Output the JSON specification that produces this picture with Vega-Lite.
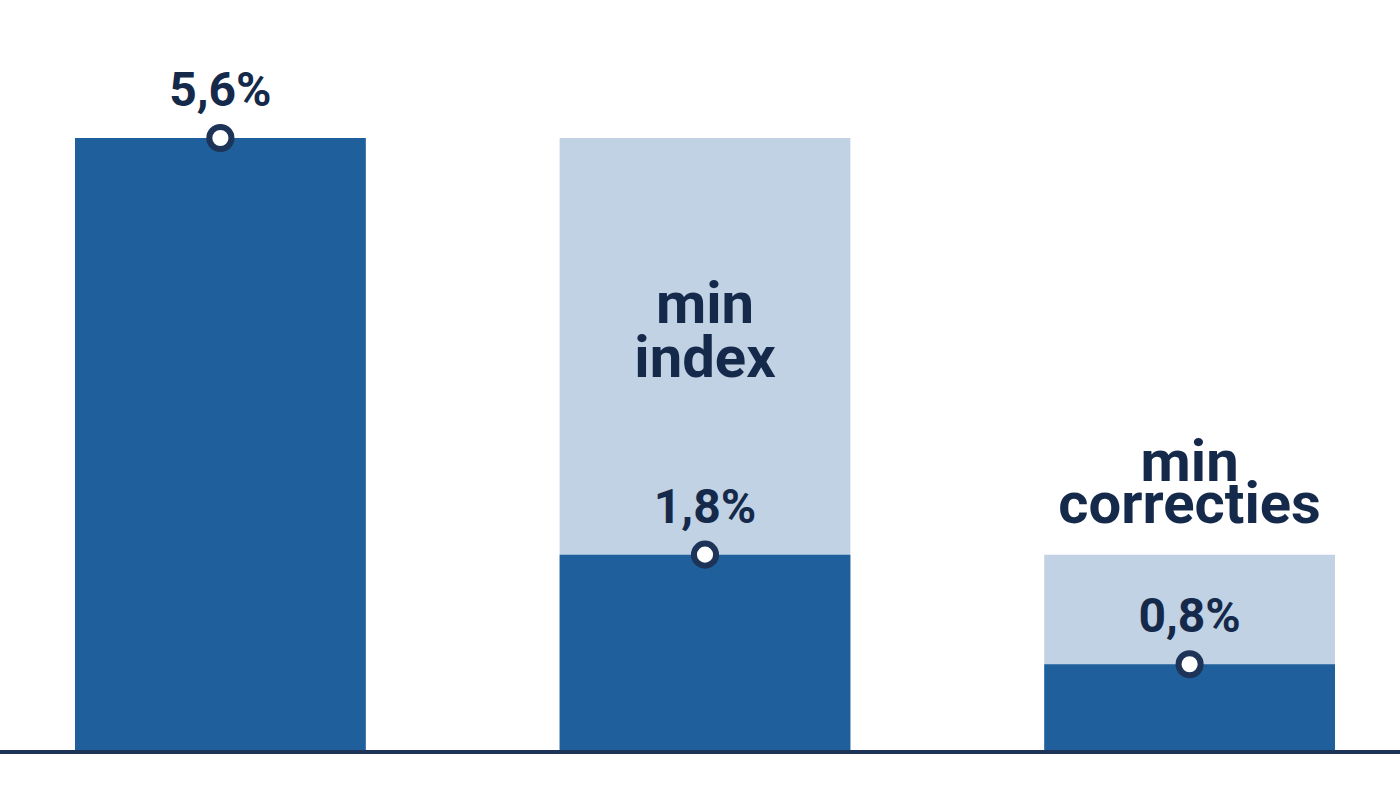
{
  "$schema": "https://vega.github.io/schema/vega-lite/v6.json",
  "width": 1400,
  "height": 804,
  "padding": 0,
  "autosize": {"type": "none"},
  "background": "white",
  "config": {"view": {"stroke": null}},
  "data": {
    "values": [
      {"cat": "a", "total": 5.6, "value": 5.6, "label": "5,6%", "note": ""},
      {"cat": "b", "total": 5.6, "value": 1.8, "label": "1,8%", "note": "min|index"},
      {"cat": "c", "total": 1.8, "value": 0.8, "label": "0,8%", "note": "min|correcties"}
    ]
  },
  "encoding": {
    "x": {"field": "cat", "type": "nominal", "axis": null,
      "scale": {"range": [75, 1335], "paddingInner": 0.4, "paddingOuter": 0}}
  },
  "layer": [
    {
      "mark": {"type": "bar", "color": "#c1d2e4"},
      "encoding": {
        "y": {"field": "total", "type": "quantitative", "axis": null,
          "scale": {"domain": [-0.4743, 6.859], "nice": false, "zero": false}},
        "y2": {"datum": 0}
      }
    },
    {
      "mark": {"type": "bar", "color": "#1f5f9b"},
      "encoding": {
        "y": {"field": "value", "type": "quantitative"},
        "y2": {"datum": 0}
      }
    },
    {
      "mark": {"type": "rule", "color": "#1e3358", "strokeWidth": 4},
      "encoding": {"y": {"datum": 0}, "x": {"value": 0}, "x2": {"value": 1400}}
    },
    {
      "mark": {"type": "point", "shape": "circle", "filled": false, "fill": "white", "fillOpacity": 1, "stroke": "#1e3358", "strokeWidth": 6, "size": 490, "opacity": 1},
      "encoding": {"y": {"field": "value", "type": "quantitative"}}
    },
    {
      "mark": {"type": "text", "font": "Roboto", "fontWeight": 700, "fontSize": 48, "color": "#15294b", "baseline": "alphabetic", "dy": -32},
      "encoding": {
        "y": {"field": "value", "type": "quantitative"},
        "text": {"field": "label"}
      }
    },
    {
      "transform": [{"filter": "datum.cat === 'b'"}, {"calculate": "split(datum.note, '|')", "as": "lines"}],
      "mark": {"type": "text", "font": "Roboto", "fontWeight": 700, "fontSize": 58, "color": "#15294b", "baseline": "top", "lineHeight": 54, "dy": 139},
      "encoding": {
        "y": {"field": "total", "type": "quantitative"},
        "text": {"field": "lines"}
      }
    },
    {
      "transform": [{"filter": "datum.cat === 'c'"}, {"calculate": "split(datum.note, '|')", "as": "lines"}],
      "mark": {"type": "text", "font": "Roboto", "fontWeight": 700, "fontSize": 58, "color": "#15294b", "baseline": "top", "lineHeight": 42, "dy": -120},
      "encoding": {
        "y": {"field": "total", "type": "quantitative"},
        "text": {"field": "lines"}
      }
    }
  ]
}
